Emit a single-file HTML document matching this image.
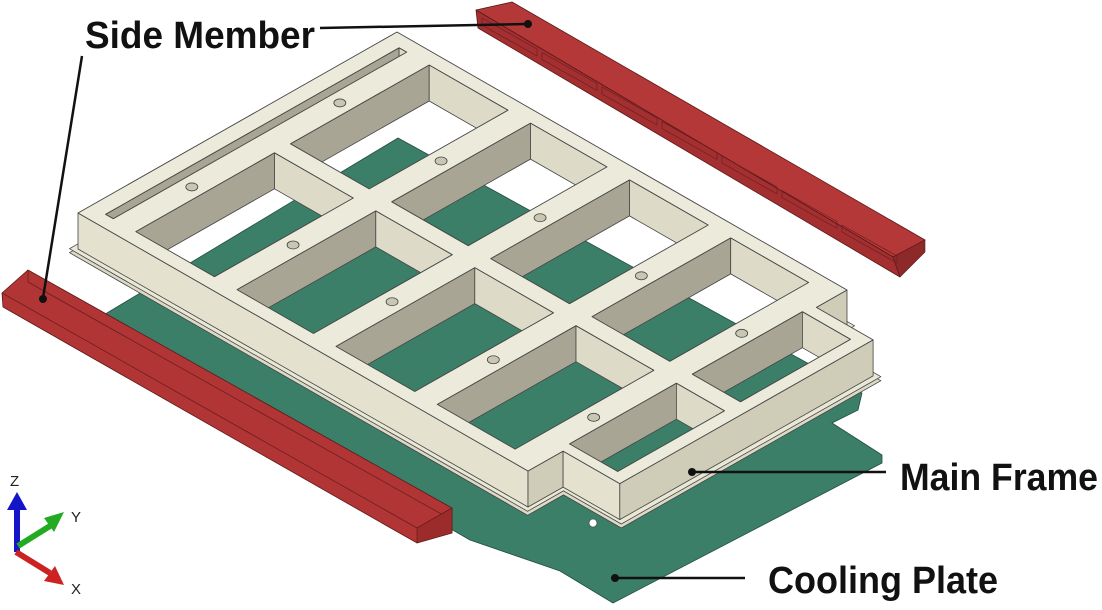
<!DOCTYPE html>
<html><head><meta charset="utf-8"><style>
html,body{margin:0;padding:0;background:#fff}
svg{display:block}
.lb{font-family:"Liberation Sans Narrow","Liberation Sans",sans-serif;font-weight:bold;fill:#111}
</style></head><body>
<svg id="s" width="1102" height="610" viewBox="0 0 1102 610" xmlns="http://www.w3.org/2000/svg">
<defs id="defs"></defs>
<g id="g"></g>
<g id="ov">
<!-- left red bar -->
<polygon points="2,293 28,270 452,508 452,533 417,543 3,307" fill="#b23536" stroke="#5a1818" stroke-width="0.8"/>
<polyline points="2,293 417,528 452,508" fill="none" stroke="#6a1e1e" stroke-width="0.8"/>
<polyline points="28,270 28,282 452,520" fill="none" stroke="#6a1e1e" stroke-width="0.8"/>
<polygon points="417,543 452,533 452,508 417,528" fill="#9c2c2c" stroke="#5a1818" stroke-width="0.6"/>
<!-- leaders -->
<line x1="320" y1="28" x2="527" y2="24" stroke="#111" stroke-width="2.5"/>
<circle cx="528" cy="24" r="4" fill="#111"/>
<line x1="82" y1="56" x2="43" y2="298" stroke="#111" stroke-width="2.5"/>
<circle cx="43" cy="299" r="4" fill="#111"/>
<line x1="692" y1="472" x2="886" y2="472" stroke="#111" stroke-width="2.5"/>
<circle cx="692" cy="472" r="4" fill="#111"/>
<line x1="615" y1="578" x2="745" y2="578" stroke="#111" stroke-width="2.5"/>
<circle cx="615" cy="578" r="4" fill="#111"/>
<text class="lb" x="85" y="48" font-size="38" textLength="230" lengthAdjust="spacingAndGlyphs">Side Member</text>
<text class="lb" x="900" y="490" font-size="38" textLength="198" lengthAdjust="spacingAndGlyphs">Main Frame</text>
<text class="lb" x="768" y="593" font-size="38" textLength="230" lengthAdjust="spacingAndGlyphs">Cooling Plate</text>
<!-- axis triad -->
<line x1="17" y1="552" x2="17" y2="506" stroke="#1515c8" stroke-width="6"/>
<polygon points="7,510 27,510 17,492" fill="#1515c8"/>
<line x1="18" y1="546" x2="50" y2="526" stroke="#22aa22" stroke-width="6"/>
<polygon points="44,518 64,512 54,532" fill="#22aa22"/>
<line x1="16" y1="552" x2="50" y2="573" stroke="#cc2222" stroke-width="6"/>
<polygon points="44,581 64,585 55,566" fill="#cc2222"/>
<text x="10" y="486" font-family="Liberation Sans,sans-serif" font-size="15" fill="#222">Z</text>
<text x="71" y="522" font-family="Liberation Sans,sans-serif" font-size="15" fill="#222">Y</text>
<text x="71" y="594" font-family="Liberation Sans,sans-serif" font-size="15" fill="#222">X</text>
</g>
</svg>
<script>
(function(){
var NS="http://www.w3.org/2000/svg",g=document.getElementById("g"),defs=document.getElementById("defs");
var T=[397,32],U=[450,258],V=[-319,181],H=36;
function P(a,b,dy){return [T[0]+a*U[0]+b*V[0],T[1]+a*U[1]+b*V[1]+(dy||0)];}
function ps(arr){return arr.map(function(p){return p[0].toFixed(1)+","+p[1].toFixed(1)}).join(" ");}
function poly(parent,pts,fill,stroke,sw){var e=document.createElementNS(NS,"polygon");e.setAttribute("points",typeof pts=="string"?pts:ps(pts));e.setAttribute("fill",fill);if(stroke){e.setAttribute("stroke",stroke);e.setAttribute("stroke-width",sw||0.8);e.setAttribute("stroke-linejoin","round");}parent.appendChild(e);return e;}
var plate="398,138 862,393 858,410 832,423 882,455 882,463 613,603 560,571 470,540 92,322";
poly(g,plate,"#3b7f69","#244d40",0.8);
var hc=document.createElementNS(NS,"circle");hc.setAttribute("cx",593);hc.setAttribute("cy",523);hc.setAttribute("r",4);hc.setAttribute("fill","#fff");hc.setAttribute("stroke","#333");hc.setAttribute("stroke-width",0.6);g.appendChild(hc);
// top red bar
poly(g,"476,10 512,2 925,240 893,257","#b53838","#5a1818");
poly(g,"476,10 893,257 900,277 478,28","#a32f30","#5a1818");
poly(g,"893,257 925,240 925,252 900,277","#8e2929","#5a1818",0.6);
for(var i=0;i<7;i++){var x0=482+i*60,y0=18+i*34.5;poly(g,[[x0,y0],[x0+55,y0+31],[x0+55,y0+38],[x0,y0+7]],"none","#6a1e1e",0.7);}
var O=[[0,0],[0,1],[1,1],[1,0.89],[1.126,0.89],[1.126,0.096],[1,0.096],[1,0]];
var F=O.map(function(q){return [0.56+(q[0]-0.56)*1.018,0.5+(q[1]-0.5)*1.025]});
poly(g,F.map(function(q){return P(q[0],q[1],H+4)}),"#dcdac6","#444",0.8);
poly(g,F.map(function(q){return P(q[0],q[1],H)}),"#e9e8d6","#444",0.8);
var faces=[[[0,1],[1,1],"#e4e2cf"],[[1,0.096],[1,0],"#cfccb8"],[[1,1],[1,0.89],"#cfccb8"],[[1,0.89],[1.126,0.89],"#e4e2cf"],[[1.126,0.89],[1.126,0.096],"#cfccb8"]];
faces.forEach(function(f){poly(g,[P(f[0][0],f[0][1]),P(f[1][0],f[1][1]),P(f[1][0],f[1][1],H),P(f[0][0],f[0][1],H)],f[2],"#444",0.8);});
poly(g,O.map(function(q){return P(q[0],q[1])}),"#ecebdb","#444",0.9);
var A=[[0.1,0.275],[0.325,0.495],[0.545,0.72],[0.77,0.943]],B=[[0.04,0.475],[0.525,0.96]];
var ops=[];A.forEach(function(a){B.forEach(function(b){ops.push([a[0],a[1],b[0],b[1]]);});});
ops.push([0.993,1.1,0.13,0.475]);ops.push([0.993,1.1,0.525,0.86]);
ops.push([0.033,0.05,0.04,0.96]);
ops.forEach(function(o,k){
 var pts=[P(o[0],o[2]),P(o[1],o[2]),P(o[1],o[3]),P(o[0],o[3])];
 var cp=document.createElementNS(NS,"clipPath");cp.setAttribute("id","c"+k);poly(cp,pts,"#000");defs.appendChild(cp);
 var gg=document.createElementNS(NS,"g");gg.setAttribute("clip-path","url(#c"+k+")");g.appendChild(gg);
 poly(gg,pts,"#ffffff");
 poly(gg,plate,"#3b7f69","#244d40",0.8);
 poly(gg,[P(o[0],o[2]),P(o[0],o[3]),P(o[0],o[3],H),P(o[0],o[2],H)],"#a8a595","#444",0.8);
 poly(gg,[P(o[0],o[2]),P(o[1],o[2]),P(o[1],o[2],H),P(o[0],o[2],H)],"#dddbc8","#444",0.8);
 poly(g,pts,"none","#444",0.9);
});
[0.075,0.3,0.52,0.745,0.968].forEach(function(a){[0.285,0.749].forEach(function(b){var p=P(a,b);var e=document.createElementNS(NS,"ellipse");e.setAttribute("cx",p[0]);e.setAttribute("cy",p[1]);e.setAttribute("rx",6);e.setAttribute("ry",4);e.setAttribute("fill","#c9c7b3");e.setAttribute("stroke","#444");e.setAttribute("stroke-width",0.8);g.appendChild(e);});});
})();
</script>
</body></html>
